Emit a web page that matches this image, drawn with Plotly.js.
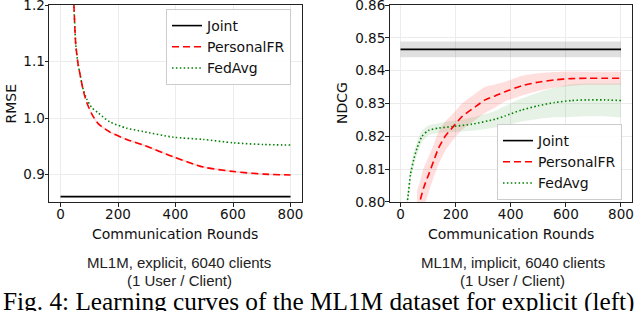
<!DOCTYPE html>
<html>
<head>
<meta charset="utf-8">
<script src="https://cdn.plot.ly/plotly-3.0.1.min.js"></script>
<style>
html,body{margin:0;padding:0;background:#fff;}
#chart{width:640px;height:311px;}
</style>
</head>
<body>
<div id="chart"></div>
<script>
// ---------- Data ----------
// Left panel: ML1M explicit, RMSE vs communication rounds
const leftRounds = [42, 47, 53, 61, 70, 79, 91, 108, 131, 172, 230, 288, 393, 497, 602, 707, 800];
const rmsePersonalFR = [1.26, 1.196, 1.131, 1.096, 1.072, 1.049, 1.028, 1.008, 0.990, 0.975, 0.962, 0.952, 0.931, 0.913, 0.905, 0.9005, 0.899];
const rmsePersonalFRStd = [0.002, 0.002, 0.002, 0.002, 0.002, 0.002, 0.002, 0.002, 0.002, 0.0018, 0.0018, 0.0018, 0.0018, 0.0018, 0.0018, 0.0016, 0.0016];
const rmseFedAvg = [1.26, 1.196, 1.131, 1.096, 1.072, 1.051, 1.034, 1.019, 1.009, 0.993, 0.982, 0.976, 0.966, 0.962, 0.956, 0.953, 0.952];
const jointRounds = [0, 800];
const rmseJoint = [0.8605, 0.8605];

// Right panel: ML1M implicit, NDCG vs communication rounds
const rightRoundsPFR = [60, 69, 84, 102, 120, 138, 162, 192, 223, 271, 307, 343, 379, 439, 499, 559, 620, 680, 740, 800];
const ndcgPersonalFR = [0.7975, 0.7998, 0.8043, 0.8083, 0.8124, 0.8164, 0.8200, 0.8230, 0.8260, 0.8290, 0.8311, 0.8323, 0.8336, 0.8354, 0.8365, 0.8372, 0.8376, 0.8377, 0.8377, 0.8377];
const ndcgPersonalFRStd = [0.006, 0.006, 0.006, 0.0055, 0.005, 0.005, 0.0045, 0.004, 0.004, 0.004, 0.004, 0.0035, 0.003, 0.003, 0.0027, 0.0024, 0.0022, 0.002, 0.002, 0.002];
const rightRoundsFedAvg = [20, 28, 36, 48, 60, 78, 102, 138, 192, 259, 343, 379, 439, 499, 559, 620, 680, 740, 800];
const ndcgFedAvg = [0.797, 0.8022, 0.8083, 0.8129, 0.8164, 0.8200, 0.8218, 0.8225, 0.8230, 0.8237, 0.8252, 0.8262, 0.8280, 0.8293, 0.8303, 0.8309, 0.8311, 0.8311, 0.8309];
const ndcgFedAvgStd = [0.002, 0.002, 0.002, 0.002, 0.002, 0.0018, 0.0015, 0.0015, 0.0017, 0.002, 0.0025, 0.003, 0.0035, 0.004, 0.0045, 0.005, 0.005, 0.005, 0.0052];
const ndcgJoint = [0.8465, 0.8465];
const ndcgJointStd = [0.0024, 0.0024];

// Text
const seriesNames = ["Joint", "PersonalFR", "FedAvg"];
const xAxisLabel = "Communication Rounds";
const leftYLabel = "RMSE";
const rightYLabel = "NDCG";
const leftCaption = ["ML1M, explicit, 6040 clients", "(1 User / Client)"];
const rightCaption = ["ML1M, implicit, 6040 clients", "(1 User / Client)"];
const figCaption = "Fig. 4: Learning curves of the ML1M dataset for explicit (left)";

// ---------- Helpers ----------
const lower = (m, s) => m.map((v, i) => v - s[i]);
const upper = (m, s) => m.map((v, i) => v + s[i]);

function band(x, m, s, fillcolor, xa, ya) {
  return [
    {x: x, y: lower(m, s), xaxis: xa, yaxis: ya, mode: 'lines', line: {width: 0, color: fillcolor, shape: 'spline', smoothing: 0.6}, showlegend: false, hoverinfo: 'skip', type: 'scatter'},
    {x: x, y: upper(m, s), xaxis: xa, yaxis: ya, mode: 'lines', line: {width: 0, color: fillcolor, shape: 'spline', smoothing: 0.6}, fill: 'tonexty', fillcolor: fillcolor, showlegend: false, hoverinfo: 'skip', type: 'scatter'}
  ];
}

const RED = '#ff0000', GREEN = '#008000', BLACK = '#000000';
const redDash = '7px,4px', greenDot = '1.5px,2.4px';

const traces = [];
// Left panel
traces.push(...band(leftRounds.slice(6), rmsePersonalFR.slice(6), rmsePersonalFRStd.slice(6), 'rgba(255,0,0,0.15)', 'x', 'y'));
traces.push({x: jointRounds, y: rmseJoint, name: seriesNames[0], mode: 'lines', line: {color: BLACK, width: 1.6}, xaxis: 'x', yaxis: 'y', legend: 'legend', legendrank: 1, type: 'scatter'});
traces.push({x: leftRounds, y: rmseFedAvg, name: seriesNames[2], mode: 'lines', line: {color: GREEN, width: 1.6, dash: greenDot, shape: 'spline', smoothing: 0.7}, xaxis: 'x', yaxis: 'y', legend: 'legend', legendrank: 3, type: 'scatter'});
traces.push({x: leftRounds, y: rmsePersonalFR, name: seriesNames[1], mode: 'lines', line: {color: RED, width: 1.6, dash: redDash, shape: 'spline', smoothing: 0.7}, xaxis: 'x', yaxis: 'y', legend: 'legend', legendrank: 2, type: 'scatter'});

// Right panel
traces.push(...band(jointRounds, ndcgJoint, ndcgJointStd, 'rgba(0,0,0,0.12)', 'x2', 'y2'));
traces.push(...band(rightRoundsPFR, ndcgPersonalFR, ndcgPersonalFRStd, 'rgba(255,0,0,0.13)', 'x2', 'y2'));
traces.push(...band(rightRoundsFedAvg, ndcgFedAvg, ndcgFedAvgStd, 'rgba(0,128,0,0.10)', 'x2', 'y2'));
traces.push({x: jointRounds, y: ndcgJoint, name: seriesNames[0], mode: 'lines', line: {color: BLACK, width: 1.6}, xaxis: 'x2', yaxis: 'y2', legend: 'legend2', legendrank: 1, type: 'scatter'});
traces.push({x: rightRoundsFedAvg, y: ndcgFedAvg, name: seriesNames[2], mode: 'lines', line: {color: GREEN, width: 1.6, dash: greenDot, shape: 'spline', smoothing: 0.6}, xaxis: 'x2', yaxis: 'y2', legend: 'legend2', legendrank: 3, type: 'scatter'});
traces.push({x: rightRoundsPFR, y: ndcgPersonalFR, name: seriesNames[1], mode: 'lines', line: {color: RED, width: 1.6, dash: redDash, shape: 'spline', smoothing: 0.6}, xaxis: 'x2', yaxis: 'y2', legend: 'legend2', legendrank: 2, type: 'scatter'});

const W = 640, H = 311;
const px = v => v / W;
const py = v => 1 - v / H;
const FONT = 'DejaVu Sans, sans-serif';
const CAPFONT = 'Liberation Sans, Arial, sans-serif';
const SERIF = 'Liberation Serif, Times New Roman, serif';

const axisCommon = {
  showline: true, mirror: true, linecolor: '#222', linewidth: 1,
  ticks: 'outside', ticklen: 3.5, tickwidth: 1, tickcolor: '#222',
  showgrid: true, gridcolor: '#ececec', gridwidth: 1,
  zeroline: false, ticklabeloverflow: 'allow',
  tickfont: {family: FONT, size: 13.5, color: '#111'}
};
const xCommon = Object.assign({}, axisCommon, {ticklabelstandoff: -4});
const yCommon = Object.assign({}, axisCommon, {ticklabelstandoff: -3});

const legendCommon = {
  bgcolor: 'rgba(255,255,255,0.9)', bordercolor: '#cccccc', borderwidth: 1,
  font: {family: FONT, size: 14, color: '#111'},
  xanchor: 'left', yanchor: 'top', traceorder: 'normal',
  itemwidth: 30
};

function ann(text, x, y, size, family, color, extra) {
  return Object.assign({text: text, x: px(x), y: py(y), xref: 'paper', yref: 'paper', showarrow: false,
    xanchor: 'center', yanchor: 'middle', font: {family: family, size: size, color: color}}, extra || {});
}

const layout = {
  width: W, height: H,
  margin: {l: 0, r: 0, t: 0, b: 0},
  paper_bgcolor: '#fff', plot_bgcolor: '#fff',
  xaxis: Object.assign({}, xCommon, {domain: [px(49), px(302)], range: [-40, 840], dtick: 200, tick0: 0, anchor: 'y'}),
  yaxis: Object.assign({}, yCommon, {domain: [py(202), py(5)], range: [0.851, 1.2005], dtick: 0.1, tick0: 0.9, tickformat: '.1f', anchor: 'x'}),
  xaxis2: Object.assign({}, xCommon, {domain: [px(389.5), px(632)], range: [-40, 840], dtick: 200, tick0: 0, anchor: 'y2'}),
  yaxis2: Object.assign({}, yCommon, {domain: [py(202), py(5)], range: [0.79995, 0.86005], dtick: 0.01, tick0: 0.80, tickformat: '.2f', anchor: 'x2'}),
  legend: Object.assign({}, legendCommon, {x: px(166), y: py(9)}),
  legend2: Object.assign({}, legendCommon, {x: px(497), y: py(124)}),
  showlegend: true,
  annotations: [
    ann(leftYLabel, 10, 103.5, 14, FONT, '#111', {textangle: -90}),
    ann(rightYLabel, 341.5, 103.5, 14, FONT, '#111', {textangle: -90}),
    ann(xAxisLabel, 175.4, 234, 14, FONT, '#111'),
    ann(xAxisLabel, 510.8, 234, 14, FONT, '#111'),
    ann(leftCaption[0], 179, 262.5, 15, CAPFONT, '#222'),
    ann(leftCaption[1], 179, 280.5, 15, CAPFONT, '#222'),
    ann(rightCaption[0], 512.5, 262.5, 15, CAPFONT, '#222'),
    ann(rightCaption[1], 512.5, 280.5, 15, CAPFONT, '#222'),
    ann(figCaption, 1, 301.5, 25.3, SERIF, '#000', {xanchor: 'left'})
  ]
};

Plotly.newPlot('chart', traces, layout, {staticPlot: true, displayModeBar: false});
</script>
</body>
</html>
